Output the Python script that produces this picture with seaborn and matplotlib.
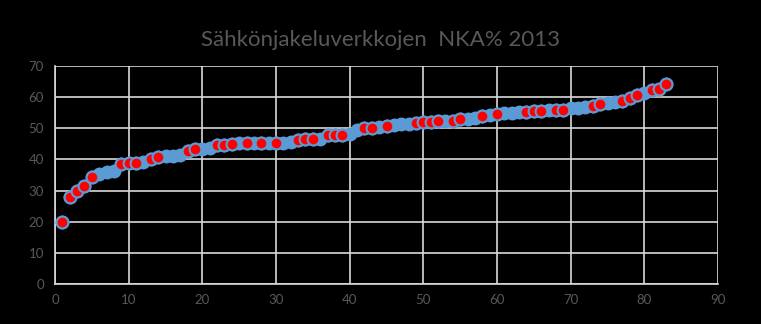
import matplotlib
matplotlib.use("Agg")
import matplotlib.pyplot as plt
import seaborn as sns
import pandas as pd

# NKA% of each distribution network, sorted ascending (company rank 1..83)
rank = list(range(1, 84))
nka_percent = [
    20.0, 28.0, 29.9, 31.6, 34.5, 35.3, 36.0, 36.3, 38.6, 38.8,
    38.8, 39.3, 40.0, 40.9, 41.0, 41.1, 41.4, 42.7, 43.4, 43.3,
    43.5, 44.7, 44.6, 45.0, 45.1, 45.3, 45.2, 45.3, 45.3, 45.3,
    45.4, 45.7, 46.3, 46.4, 46.6, 46.5, 47.8, 47.8, 47.9, 48.1,
    49.4, 50.1, 50.1, 50.5, 50.8, 51.0, 51.2, 51.3, 51.7, 52.1,
    52.1, 52.4, 52.4, 52.4, 52.8, 52.9, 53.2, 54.0, 54.2, 54.5,
    54.8, 54.9, 55.1, 55.3, 55.4, 55.6, 55.8, 55.8, 55.8, 56.4,
    56.5, 56.7, 57.2, 57.7, 58.0, 58.5, 58.7, 59.6, 60.6, 61.4,
    62.2, 62.5, 64.1,
]
# Networks drawn with a red marker
highlighted = [
    1, 2, 3, 4, 5, 9, 10, 11, 13, 14, 18, 19, 22, 23, 24, 26, 28, 30,
    33, 34, 35, 37, 38, 39, 42, 43, 45, 49, 50, 51, 52, 54, 55, 58, 60,
    64, 65, 66, 68, 69, 73, 74, 77, 78, 79, 81, 82, 83,
]
title = "Sähkönjakeluverkkojen  NKA% 2013"
x_ticks = [0, 10, 20, 30, 40, 50, 60, 70, 80, 90]
y_ticks = [0, 10, 20, 30, 40, 50, 60, 70]

df = pd.DataFrame({"rank": rank, "nka": nka_percent})
df["red"] = df["rank"].isin(highlighted)

sns.set_theme(style="white")
plt.rcParams["font.family"] = ["Lato", "DejaVu Sans"]

blue = "#5B9BD5"
grid = "#D9D9D9"
text_col = "#595959"

fig = plt.figure(figsize=(7.61, 3.24), dpi=100, facecolor="black")
ax = fig.add_axes([55 / 761, 1 - 284.3 / 324, 663 / 761, 218.6 / 324])
ax.set_facecolor("black")

sns.scatterplot(data=df, x="rank", y="nka", ax=ax, s=72, color=blue,
                edgecolor=blue, linewidth=1.5, zorder=3)
sns.scatterplot(data=df[df["red"]], x="rank", y="nka", ax=ax, s=72,
                color="#FF0000", edgecolor=blue, linewidth=1.5, zorder=4)

ax.set_xlim(0, 90)
ax.set_ylim(0, 70)
ax.set_xticks(x_ticks)
ax.set_yticks(y_ticks)
ax.set_xlabel("")
ax.set_ylabel("")
ax.grid(True, color=grid, linewidth=1.2, zorder=0)
ax.set_axisbelow(True)
for side, sp in ax.spines.items():
    if side in ("left", "bottom"):
        sp.set_color(grid)
        sp.set_linewidth(1.2)
    else:
        sp.set_visible(False)
ax.tick_params(axis="both", colors=text_col, labelsize=9.5, length=0)
ax.tick_params(axis="x", pad=7)
ax.tick_params(axis="y", pad=8)

fig.text(0.5, 1 - 40 / 324, title, ha="center", va="center",
         color=text_col, fontsize=16)

fig.savefig("out.png", dpi=100, facecolor="black")
